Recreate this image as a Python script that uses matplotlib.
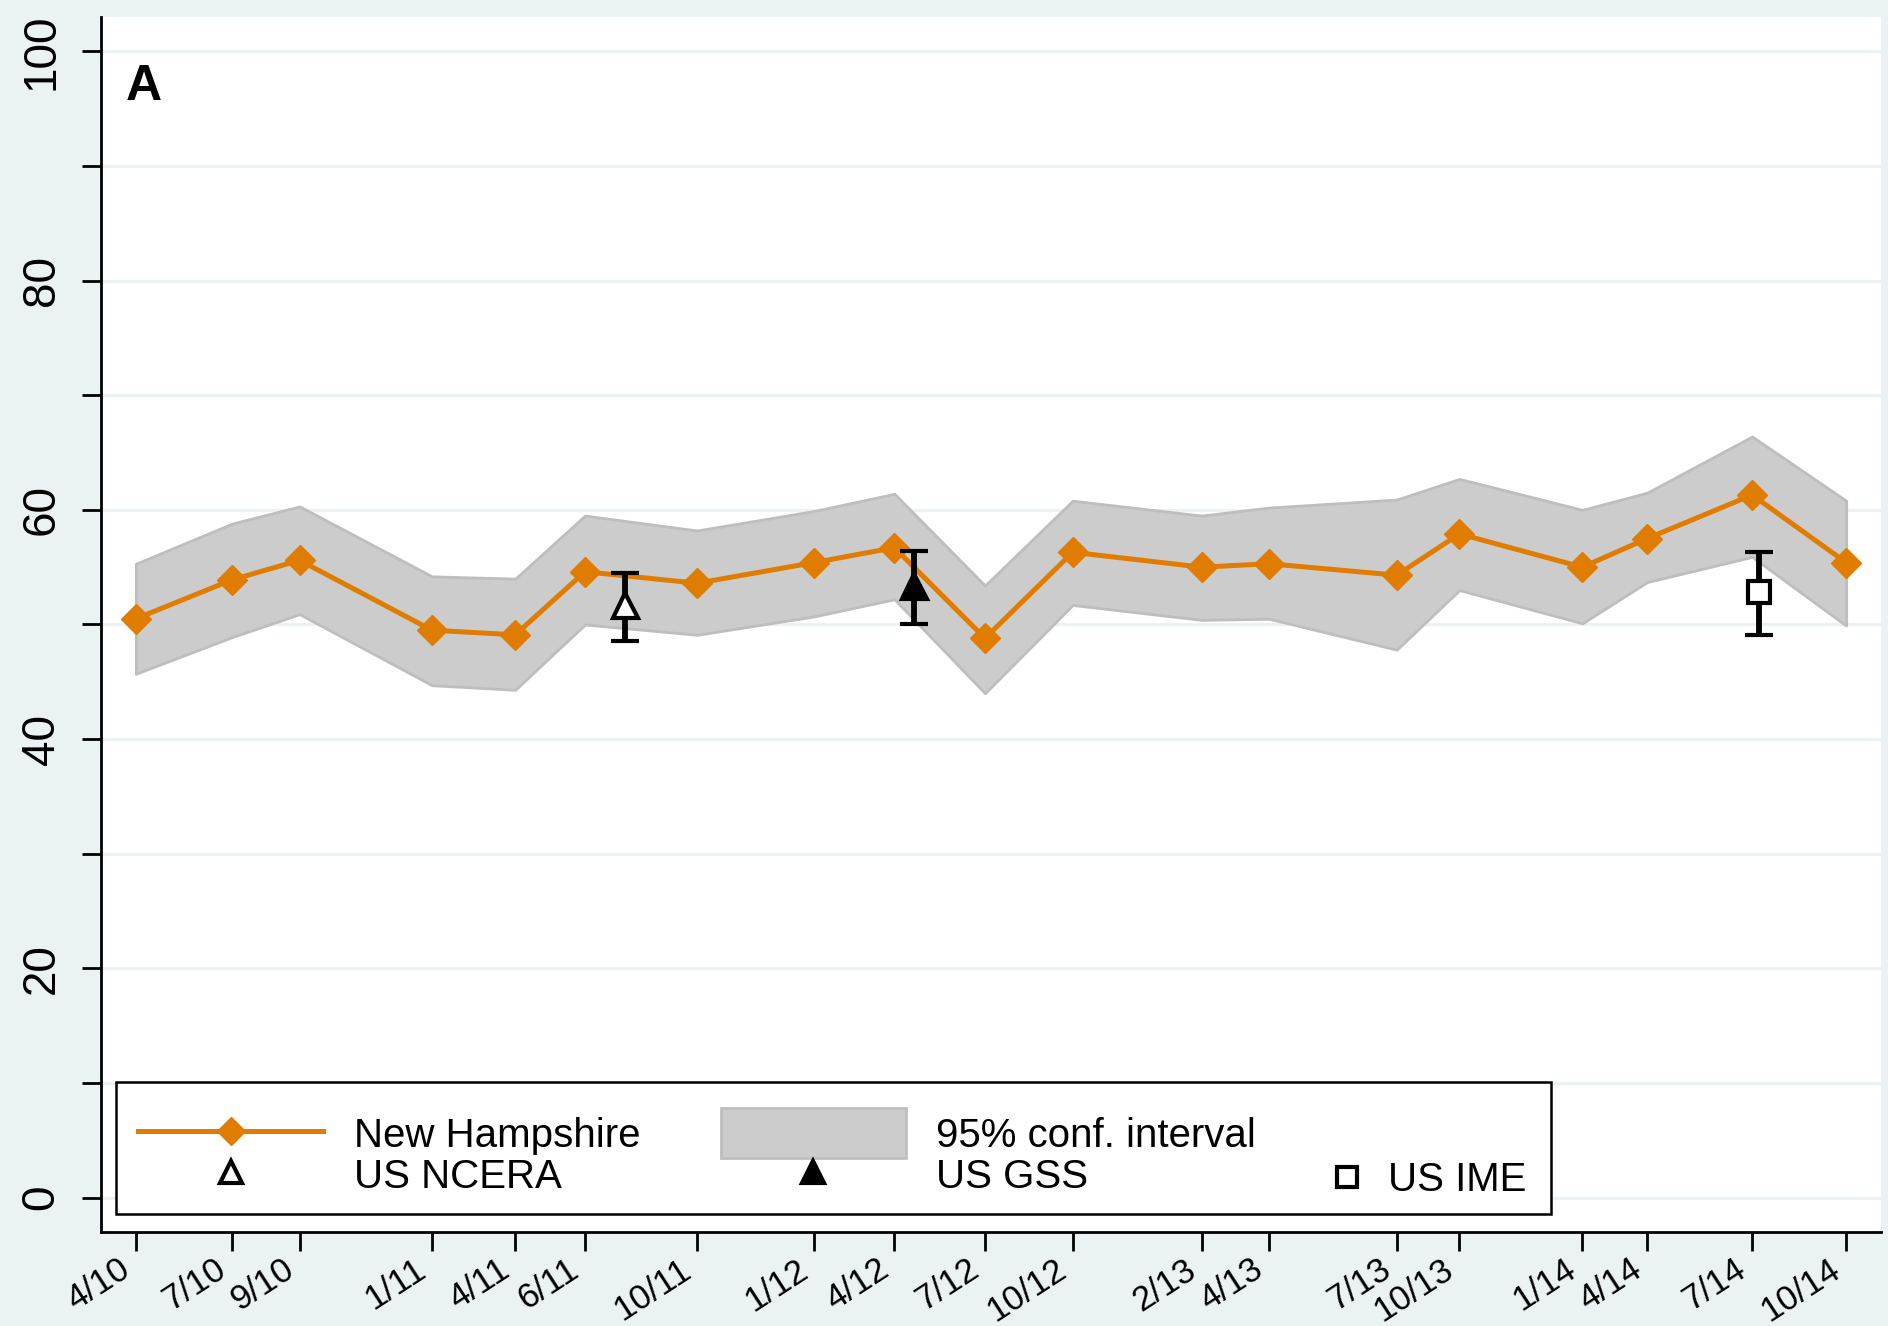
"""Panel A: New Hampshire series with 95% CI and US survey benchmarks."""

import matplotlib
matplotlib.use("Agg")
import matplotlib.pyplot as plt
from matplotlib.patches import Rectangle, Patch
from matplotlib.lines import Line2D
from matplotlib.legend_handler import HandlerPatch

plt.rcParams["font.family"] = ["Liberation Sans", "DejaVu Sans"]

# survey dates as months since April 2010
survey_x = [0.0, 3.04, 5.17, 9.35, 11.98, 14.18, 17.72, 21.41, 23.95, 26.81,
            29.58, 33.65, 35.78, 39.81, 41.79, 45.67, 47.72, 51.03, 54.0]
survey_labels = ["4/10", "7/10", "9/10", "1/11", "4/11", "6/11", "10/11", "1/12",
                 "4/12", "7/12", "10/12", "2/13", "4/13", "7/13", "10/13", "1/14",
                 "4/14", "7/14", "10/14"]
nh_pct = [50.5, 53.9, 55.6, 49.5, 49.1, 54.6, 53.6, 55.4, 56.7, 48.8,
          56.3, 55.0, 55.3, 54.3, 57.9, 55.0, 57.5, 61.3, 55.4]
ci_hi = [55.3, 58.8, 60.3, 54.2, 54.0, 59.5, 58.2, 59.9, 61.4, 53.4,
         60.8, 59.5, 60.2, 60.9, 62.7, 60.0, 61.5, 66.4, 60.8]
ci_lo = [45.7, 48.9, 50.9, 44.7, 44.3, 50.0, 49.1, 50.7, 52.2, 44.0,
         51.7, 50.4, 50.5, 47.8, 53.0, 50.1, 53.7, 55.9, 49.9]

# US benchmarks: (x, estimate, lower, upper)
ncera_x, ncera_y, ncera_lo, ncera_hi = 15.44, 51.7, 48.6, 54.5
gss_x, gss_y, gss_lo, gss_hi = 24.56, 53.4, 50.0, 56.4
ime_x, ime_y, ime_lo, ime_hi = 51.25, 52.8, 49.1, 56.3

ORANGE = "#E07C00"
BG = "#EAF2F3"


def tall_patch(legend, orig_handle, xdescent, ydescent, width, height, fontsize):
    # stata draws the area key taller than the text row
    return Rectangle((-xdescent, -ydescent - 0.2 * height), width, height * 1.4)


fig = plt.figure(figsize=(18.88, 13.26), dpi=100, facecolor=BG)
ax = fig.add_axes([0.0535, 0.0709, 0.9428, 0.9163])
ax.set_facecolor("white")

ax.fill_between(survey_x, ci_lo, ci_hi, facecolor="#CCCCCC", edgecolor="#BEBEBE",
                lw=2, zorder=2)
ax.plot(survey_x, nh_pct, color=ORANGE, lw=3.6, marker="D", ms=15, mec=ORANGE,
        zorder=3)

eb = dict(color="black", elinewidth=4.2, capsize=10, capthick=4.5, ls="none", zorder=4)
ax.errorbar([ncera_x], [ncera_y], yerr=[[ncera_y - ncera_lo], [ncera_hi - ncera_y]],
            marker="^", ms=18, mfc="white", mec="black", mew=3, **eb)
ax.errorbar([gss_x], [gss_y], yerr=[[gss_y - gss_lo], [gss_hi - gss_y]],
            marker="^", ms=18, mfc="black", mec="black", mew=3, **eb)
ax.errorbar([ime_x], [ime_y], yerr=[[ime_y - ime_lo], [ime_hi - ime_y]],
            marker="s", ms=16, mfc="white", mec="black", mew=3, **eb)

ax.set_xlim(-1.1, 55.1)
ax.set_ylim(-3, 103)
ax.set_yticks(range(0, 101, 10))
ax.set_yticklabels([str(v) if v % 20 == 0 else "" for v in range(0, 101, 10)],
                   rotation=90, va="center", fontsize=33)
ax.set_xticks(survey_x)
ax.set_xticklabels(survey_labels, rotation=33, ha="right", va="top", fontsize=25)
ax.tick_params(axis="both", length=14, width=2, color="black")
ax.tick_params(axis="y", pad=13)
ax.tick_params(axis="x", pad=1)
ax.grid(axis="y", color=BG, lw=2.2)
ax.set_axisbelow(True)
for side in ["top", "right"]:
    ax.spines[side].set_visible(False)
for side in ["left", "bottom"]:
    ax.spines[side].set_linewidth(2)

ax.text(0.014, 0.942, "A", transform=ax.transAxes, fontsize=36, fontweight="bold",
        ha="left", va="center")

# legend: white box with two frameless legends inside
ax.add_patch(Rectangle((0.0084, 0.0148), 0.806, 0.1087, transform=ax.transAxes,
                       facecolor="white", edgecolor="black", lw=1.8, zorder=4))
h_nh = Line2D([], [], color=ORANGE, lw=3.6, marker="D", ms=14)
h_ci = Patch(facecolor="#CCCCCC", edgecolor="#BEBEBE", lw=2)
h_ncera = Line2D([], [], ls="none", marker="^", ms=16, mfc="white", mec="black", mew=3)
h_gss = Line2D([], [], ls="none", marker="^", ms=16, mfc="black", mec="black", mew=3)
h_ime = Line2D([], [], ls="none", marker="s", ms=15, mfc="white", mec="black", mew=3)
leg1 = ax.legend([h_nh, h_ncera, h_ci, h_gss],
                 ["New Hampshire", "US NCERA", "95% conf. interval", "US GSS"],
                 ncol=2, loc="upper left", bbox_to_anchor=(0.0208, 0.0965),
                 frameon=False, fontsize=29, handlelength=4.6, handleheight=1.0,
                 handletextpad=0.75, columnspacing=2.0, labelspacing=0.05,
                 borderpad=0, borderaxespad=0,
                 handler_map={Patch: HandlerPatch(patch_func=tall_patch)})
ax.add_artist(leg1)
ax.legend([h_ime], ["US IME"], loc="center left", bbox_to_anchor=(0.690, 0.043),
          frameon=False, fontsize=29, handlelength=0.9, handletextpad=0.55,
          borderpad=0, borderaxespad=0)

fig.savefig("out.png", dpi=100, facecolor=BG)
